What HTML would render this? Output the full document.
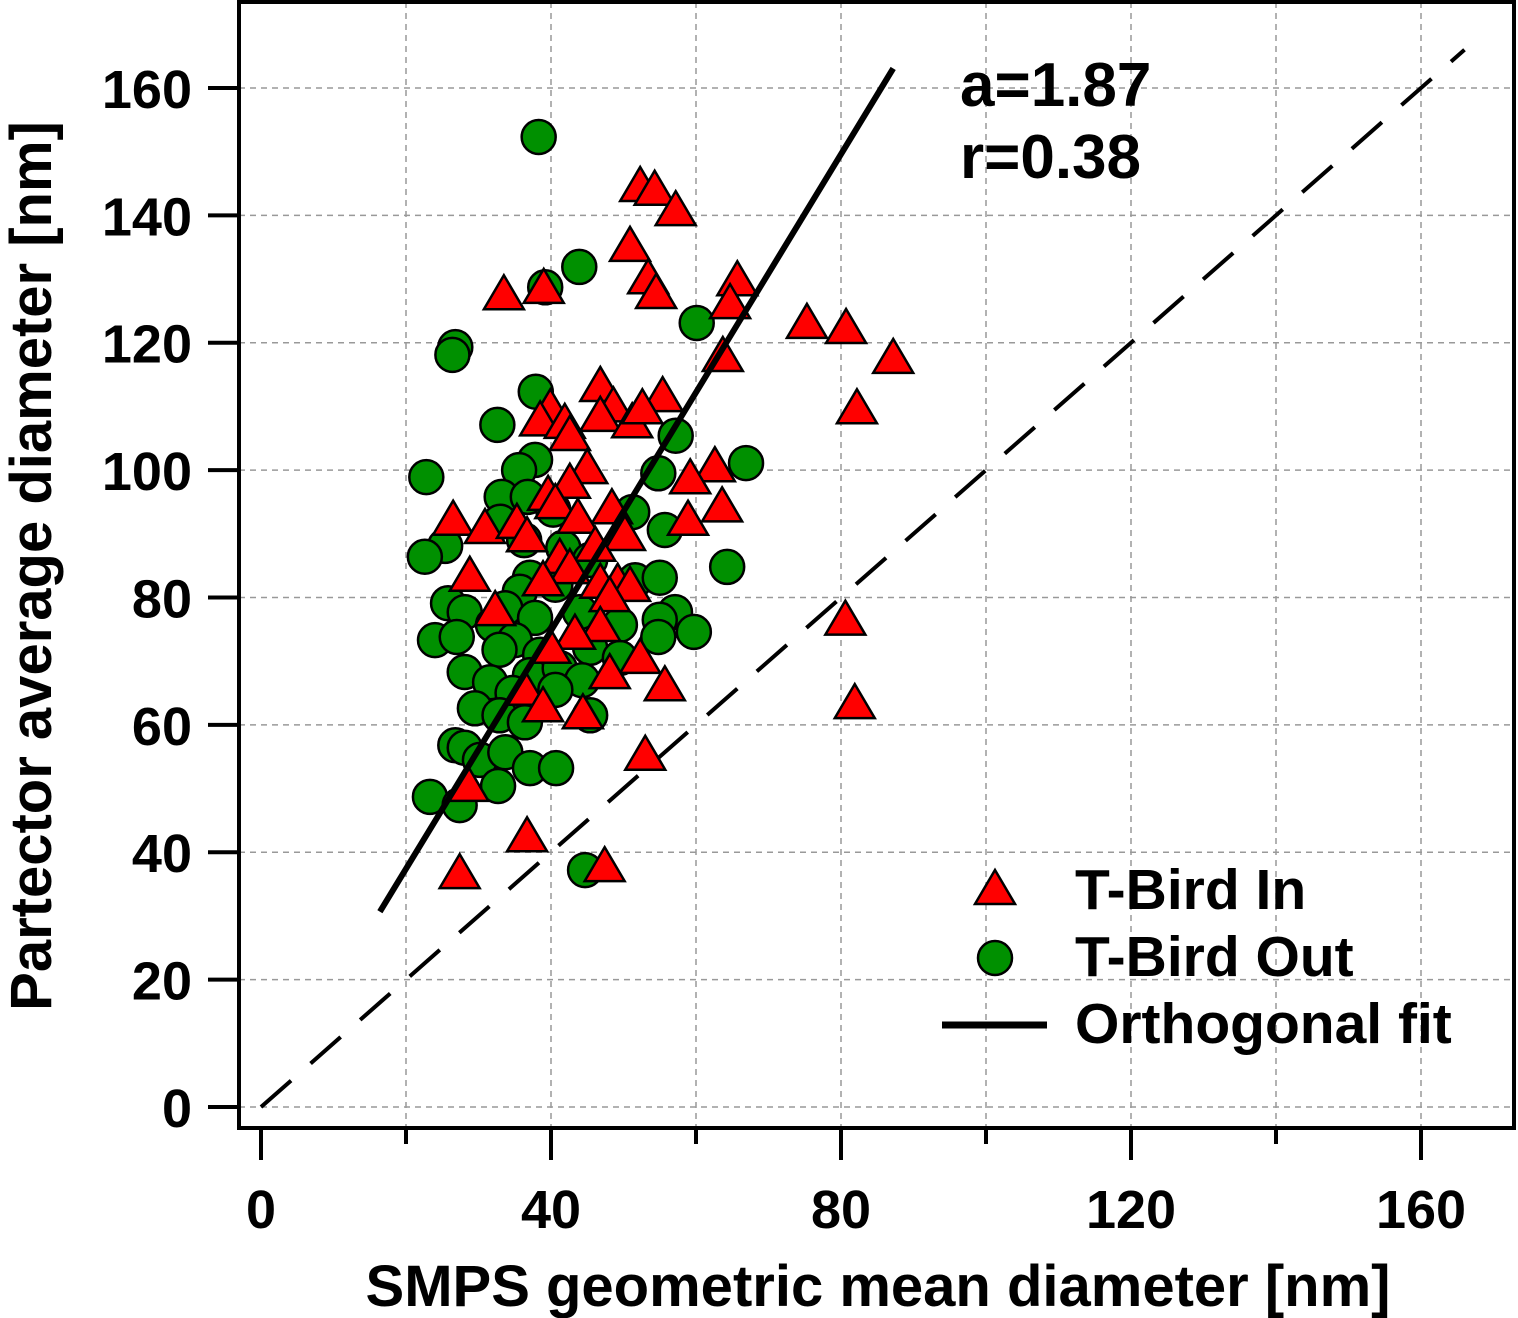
<!DOCTYPE html>
<html><head><meta charset="utf-8"><style>
html,body{margin:0;padding:0;background:#fff}
svg{display:block}
text{font-family:"Liberation Sans",Arial,sans-serif;font-weight:bold;fill:#000}
</style></head><body>
<svg id="chart" width="1518" height="1318" viewBox="0 0 1518 1318" xmlns="http://www.w3.org/2000/svg">
<g id="grid"></g>
<g id="axes"></g>
<g id="marks"></g>
<rect x="239" y="2" width="1275" height="1126" fill="none" stroke="#000" stroke-width="4"/>
<text x="960" y="106" font-size="62">a=1.87</text>
<text x="960" y="178" font-size="62">r=0.38</text>
<g>
<polygon points="995,870 1015,904 975,904" fill="#f00" stroke="#000" stroke-width="2.5"/>
<text x="1075" y="909" font-size="57">T-Bird In</text>
<circle cx="995" cy="958" r="17" fill="#009000" stroke="#000" stroke-width="2.5"/>
<text x="1075" y="976" font-size="57">T-Bird Out</text>
<line x1="942" y1="1025" x2="1047" y2="1025" stroke="#000" stroke-width="7"/>
<text x="1075" y="1043" font-size="57">Orthogonal fit</text>
</g>
<text x="878" y="1306" font-size="58" text-anchor="middle">SMPS geometric mean diameter [nm]</text>
<text x="0" y="0" font-size="58" text-anchor="middle" transform="translate(51,566) rotate(-90)">Partector average diameter [nm]</text>
</svg>
<script>
const xTicks=[0,40,80,120,160];
const xMinor=[20,60,100,140];
const yTicks=[0,20,40,60,80,100,120,140,160];
const gridX=[20,40,60,80,100,120,140,160];
const fitSlope=1.87;
const fitRange=[16.4,87.2];
const identityRange=[0,166];
const inX=[52.3,54.3,57.2,50.9,53.4,54.5,65.7,64.7,33.5,39,75.3,80.7,87.2,63.7,46.8,55.4,39.9,48.6,38.5,41.9,46.8,51.2,52.6,42.6,82.2,45,62.6,59.2,42.6,39.6,40.6,63.6,48.4,26.5,30.9,35.3,43.7,58.9,36.7,50.2,46.1,41.2,42.6,28.8,38.9,46.8,49.2,50.9,48.1,32.3,80.6,46.8,43.3,39.9,52.3,48.1,55.7,36.4,38.9,44.4,81.9,53,28.6,36.7,47.4,27.4];
const inY=[144.3,143.7,140.5,134.9,129.8,127.5,129.5,125.9,127.3,128.3,122.8,122,117.3,117.6,112.9,111.3,109.4,109.7,107.5,107.1,108.2,107.2,109.4,105.2,109.4,100,100.3,98.4,97.7,95.8,94.5,94,93.7,91.9,90.6,91.4,92.2,91.9,89.3,89.5,87.8,85.9,84.3,83.1,82.4,82,82,81.5,79.9,77.7,76.2,75.2,74,71.8,70.2,67.8,65.9,65.2,62.6,61.5,63.1,55,50.1,42.2,37.5,36.4];
const outX=[38.3,43.9,39.2,26.8,26.4,60.1,37.9,32.6,57.2,37.8,35.6,22.8,66.9,54.8,33.2,36.8,40.3,51.2,33,55.7,36.3,41.7,25.4,22.6,64.3,45.4,37.1,40.6,51.6,55,35.7,25.8,28.1,33.7,37.8,44,49.5,57.1,55,54.8,59.7,24,27,32,35,32.9,38.5,45.4,49.5,28.1,37.1,41.2,44.3,31.6,34.7,40.6,29.5,32.9,36.4,45.4,26.8,28.1,30.2,33.7,37.1,40.7,32.7,23.3,27.4,44.7];
const outY=[152.3,131.9,128.7,119.3,118.1,123.1,112.3,107.1,105.4,101.6,100,98.9,101.1,99.5,95.8,95.8,93.8,93.4,91.9,90.6,89,87.8,88.1,86.4,84.8,85.9,83.1,82,82.7,83.1,80.9,79.1,77.7,78.3,76.8,77.7,75.7,77.7,76.5,73.8,74.6,73.3,73.8,75.7,73.3,71.8,71,72.1,70.5,68.3,67.8,68.9,67,66.7,65,65.5,62.6,61.5,60.4,61.5,56.8,56.4,54.5,55.7,53.2,53.2,50.4,48.7,47.4,37.2];

const NS='http://www.w3.org/2000/svg';
const sx=v=>261+v*7.25;
const sy=v=>1107-v*6.369;
function mk(tag,attrs,parent){const e=document.createElementNS(NS,tag);for(const k in attrs)e.setAttribute(k,attrs[k]);parent.appendChild(e);return e;}
const grid=document.getElementById('grid'),axes=document.getElementById('axes'),marks=document.getElementById('marks');
gridX.forEach(v=>{const l=mk('line',{x1:sx(v),x2:sx(v),y1:2,y2:1128,stroke:'#999','stroke-width':1.5,'stroke-dasharray':'6,5'},grid);

});
yTicks.forEach(v=>{const l=mk('line',{x1:239,x2:1514,y1:sy(v),y2:sy(v),stroke:'#999','stroke-width':1.5,'stroke-dasharray':'6,5'},grid);

});
xTicks.forEach(v=>{const t=mk('line',{x1:sx(v),x2:sx(v),y1:1128,y2:1160,stroke:'#000','stroke-width':4},axes);


const tx=mk('text',{x:sx(v),y:1228,'font-size':54,'text-anchor':'middle'},axes);tx.textContent=v;

});
xMinor.forEach(v=>{const t=mk('line',{x1:sx(v),x2:sx(v),y1:1128,y2:1144,stroke:'#000','stroke-width':4},axes);

});
yTicks.forEach(v=>{const t=mk('line',{x1:208,x2:239,y1:sy(v),y2:sy(v),stroke:'#000','stroke-width':4},axes);


const tx=mk('text',{x:192,y:sy(v)+20,'font-size':54,'text-anchor':'end'},axes);tx.textContent=v;

});
const idl=mk('line',{x1:sx(identityRange[0]),y1:sy(identityRange[0]),x2:sx(identityRange[1]),y2:sy(identityRange[1]),stroke:'#000','stroke-width':4,'stroke-dasharray':'40,26'},marks);


outX.forEach((x,i)=>{const c=mk('circle',{cx:sx(x),cy:sy(outY[i]),r:17,fill:'#009000',stroke:'#000','stroke-width':2.5},marks);

});
inX.forEach((x,i)=>{const cx=sx(x),cy=sy(inY[i]);
const p=mk('polygon',{points:`${cx},${cy-21} ${cx+20},${cy+13} ${cx-20},${cy+13}`,fill:'#f00',stroke:'#000','stroke-width':2.5},marks);

});
const fl=mk('line',{x1:sx(fitRange[0]),y1:sy(fitRange[0]*fitSlope),x2:sx(fitRange[1]),y2:sy(fitRange[1]*fitSlope),stroke:'#000','stroke-width':6},marks);


</script>
</body></html>
